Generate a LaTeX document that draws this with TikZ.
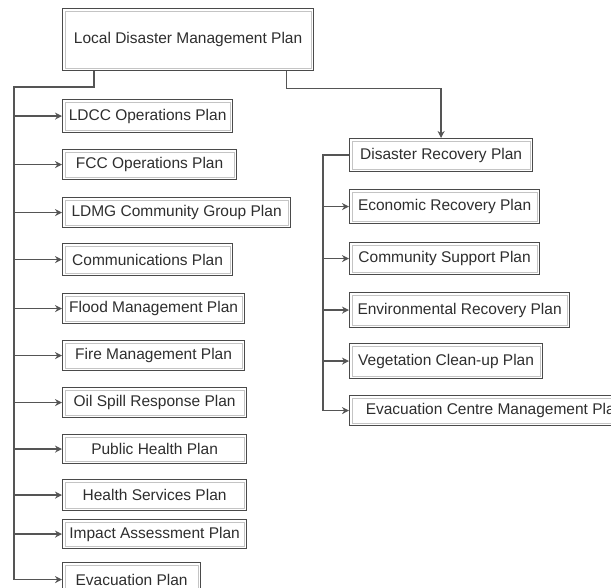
\documentclass[tikz,border=0pt]{standalone}
\usepackage{fontspec}
\setmainfont{Liberation Sans}
\usetikzlibrary{arrows.meta}
\definecolor{boxline}{HTML}{4A4A4A}
\definecolor{innerline}{HTML}{C4C4C4}
\definecolor{txt}{HTML}{2E2E2E}
\definecolor{conn}{HTML}{555555}
\tikzset{
  planbox/.style={draw=boxline, line width=1.2pt, fill=white, anchor=north west,
    inner xsep=2pt, inner ysep=0pt, text=txt, align=center,
    font=\fontsize{15.5}{17}\selectfont,
    path picture={\draw[innerline, line width=0.6pt]
      ([shift={(2.5pt,-2.5pt)}]path picture bounding box.north west) rectangle
      ([shift={(-2.5pt,2.5pt)}]path picture bounding box.south east);}},
  link/.style={draw=conn, line width=1.3pt},
  arr/.style={link, -{Stealth[length=7pt,width=7pt]}}
}
\begin{document}
\begin{tikzpicture}[x=1pt,y=-1pt]
\useasboundingbox (0,0) rectangle (611,588);
\clip (0,0) rectangle (611,588);
% top
\node[planbox, minimum width=251pt, minimum height=62pt] (top) at (62,8) {Local Disaster Management Plan};
% left column
\node[planbox, minimum width=170pt, minimum height=33pt] (ldcc)   at (62,99)  {LDCC Operations Plan};
\node[planbox, minimum width=174pt, minimum height=30pt] (fcc)    at (62,149) {FCC Operations Plan};
\node[planbox, minimum width=228pt, minimum height=30pt] (ldmg)   at (62,197) {LDMG Community Group Plan};
\node[planbox, minimum width=170pt, minimum height=32pt] (comm)   at (62,243) {Communications Plan};
\node[planbox, minimum width=182pt, minimum height=30pt] (flood)  at (62,293) {Flood Management Plan};
\node[planbox, minimum width=182pt, minimum height=30pt] (fire)   at (62,340) {Fire Management Plan};
\node[planbox, minimum width=184pt, minimum height=30pt] (oil)    at (62,387) {Oil Spill Response Plan};
\node[planbox, minimum width=184pt, minimum height=29pt] (public) at (62,434) {Public Health Plan};
\node[planbox, minimum width=184pt, minimum height=31pt] (health) at (62,479) {Health Services Plan};
\node[planbox, minimum width=184pt, minimum height=29pt] (impact) at (62,519) {Impact Assessment Plan};
\node[planbox, minimum width=138pt, minimum height=34pt] (evac)   at (62,562) {Evacuation Plan};
% right column
\node[planbox, minimum width=183pt, minimum height=33pt] (drp)    at (349,138) {Disaster Recovery Plan};
\node[planbox, minimum width=190pt, minimum height=34pt] (eco)    at (349,189) {Economic Recovery Plan};
\node[planbox, minimum width=190pt, minimum height=32pt] (csp)    at (349,242) {Community Support Plan};
\node[planbox, minimum width=220pt, minimum height=35pt] (env)    at (349,292) {Environmental Recovery Plan};
\node[planbox, minimum width=193pt, minimum height=35pt] (veg)    at (349,343) {Vegetation Clean-up Plan};
\node[planbox, minimum width=290pt, minimum height=30pt] (ecm)    at (349,395) {Evacuation Centre Management Plan};
% left connectors
\coordinate (lc) at (14,87);
\draw[arr] ([xshift=32pt]top.south west) |- (lc) |- (evac.west);
\foreach \n in {ldcc,fcc,ldmg,comm,flood,fire,oil,public,health,impact}
  \draw[arr] (lc |- \n.west) -- (\n.west);
% right connectors
\draw[arr] ([xshift=-28pt]top.south east) -- ++(0,17) -| (drp.north);
\coordinate (rc) at ([xshift=-26pt]drp.west);
\draw[arr] (drp.west) -- (rc) |- (ecm.west);
\foreach \n in {eco,csp,env,veg}
  \draw[arr] (rc |- \n.west) -- (\n.west);
\end{tikzpicture}
\end{document}
